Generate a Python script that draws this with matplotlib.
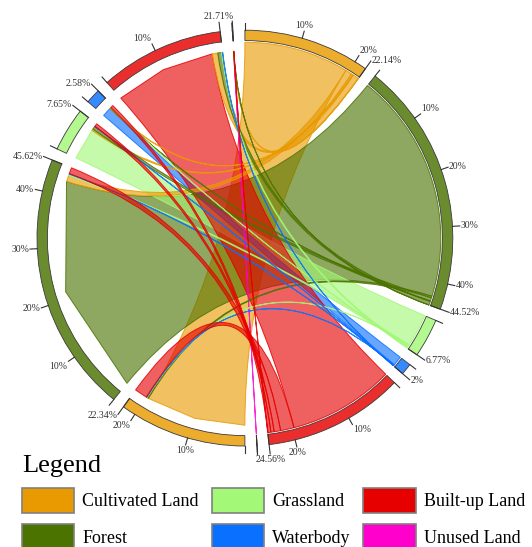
import numpy as np
import matplotlib.pyplot as plt
from matplotlib.path import Path
from matplotlib.patches import PathPatch, Wedge, Patch
from matplotlib.colors import to_rgb

plt.rcParams['font.family'] = ['Liberation Serif', 'DejaVu Serif']

classes = ["Cultivated Land", "Forest", "Grassland", "Waterbody", "Built-up Land", "Unused Land"]
colors = ["#E89A00", "#4B7300", "#A4F878", "#0A70FF", "#E60000", "#FF00CC"]

# land transfer, % of total area: rows = earlier class (left half), cols = later class (right half)
flows = [
    [19.41, 0.30, 0.08, 0.05, 2.50, 0.00],
    [1.20, 42.82, 0.30, 0.10, 1.20, 0.00],
    [0.30, 0.60, 6.10, 0.05, 0.60, 0.00],
    [0.10, 0.10, 0.05, 1.78, 0.55, 0.00],
    [1.10, 0.69, 0.24, 0.02, 19.66, 0.00],
    [0.03, 0.01, 0.00, 0.00, 0.05, 0.01],
]

M = np.array(flows)
n = len(classes)
left_tot = M.sum(axis=1)
right_tot = M.sum(axis=0)

gap = 10 / 3                                  # degrees between segments
k = (360 - 2 * n * gap) / (2 * M.sum())       # degrees per percent
R_OUT, R_IN = 1.0, 0.95                       # outer ring
R_L, R_R = 0.90, 0.942                        # ribbon ends, left / right

# segment angles, clockwise from 12 o'clock: right half first, then left half
seg = {}
theta = 90.0
for side, totals in (("R", right_tot), ("L", left_tot)):
    for c in range(n):
        span = totals[c] * k
        seg[side, c] = (theta, theta - span)
        theta -= span + gap


def order(c):
    return [c] + [o for o in range(n) if o != c]


left_sub, right_sub = {}, {}
for i in range(n):
    a = seg["L", i][0]
    for j in order(i):
        left_sub[i, j] = (a, a - M[i, j] * k)
        a -= M[i, j] * k
for j in range(n):
    b = seg["R", j][0]
    for i in order(j):
        right_sub[i, j] = (b, b - M[i, j] * k)
        b -= M[i, j] * k


def pt(ang, r):
    t = np.radians(ang)
    return (r * np.cos(t), r * np.sin(t))


def ribbon(i, j):
    a0, a1 = left_sub[i, j]
    b0, b1 = right_sub[i, j]
    verts, codes = [], []
    npts = 3 if a0 - a1 > 20 else 2
    for ang in np.linspace(a0, a1, npts):
        verts.append(pt(ang, R_L))
        codes.append(Path.LINETO)
    codes[0] = Path.MOVETO
    verts += [(0, 0), pt(b0, R_R)]
    codes += [Path.CURVE3, Path.CURVE3]
    for ang in np.linspace(b0, b1, int((b0 - b1) / 1.5) + 2)[1:]:
        verts.append(pt(ang, R_R))
        codes.append(Path.LINETO)
    verts += [(0, 0), pt(a0, R_L), pt(a0, R_L)]
    codes += [Path.CURVE3, Path.CURVE3, Path.CLOSEPOLY]
    return Path(verts, codes)


fig = plt.figure(figsize=(5.32, 5.47), dpi=100)
ax = fig.add_axes([-4.6 / 532, 59.4 / 547, 499 / 532, 499 / 547])
ax.set_xlim(-1.2, 1.2)
ax.set_ylim(-1.2, 1.2)
ax.axis('off')

# self-transfers underneath, conversions on top
pairs = [(i, i) for i in range(n)] + [(i, j) for i in range(n) for j in range(n) if i != j]
for i, j in pairs:
    if M[i, j] <= 0:
        continue
    rgb = to_rgb(colors[j])
    ax.add_patch(PathPatch(ribbon(i, j), facecolor=(*rgb, 0.62),
                           edgecolor=(*rgb, 0.85), lw=0.7))


def place(ang, r, vlim=0.35):
    c, s = np.cos(np.radians(ang)), np.sin(np.radians(ang))
    ha = 'left' if c > 0.35 else ('right' if c < -0.35 else 'center')
    va = 'bottom' if s > vlim else ('top' if s < -vlim else 'center')
    return r * c, r * s, ha, va


tick_kw = dict(color='#333333', lw=0.8)
for (side, c), (s, e) in seg.items():
    v = round((right_tot if side == "R" else left_tot)[c], 2)
    ax.add_patch(Wedge((0, 0), R_OUT, e, s, width=R_OUT - R_IN,
                       facecolor=(*to_rgb(colors[c]), 0.82),
                       edgecolor='#3a3a3a', lw=0.6))
    # start tick
    x0, y0 = pt(s, R_OUT)
    x1, y1 = pt(s, R_OUT + 0.035)
    ax.plot([x0, x1], [y0, y1], **tick_kw)
    # end tick with segment share
    x0, y0 = pt(e, R_IN)
    x1, y1 = pt(e, R_OUT + 0.045)
    ax.plot([x0, x1], [y0, y1], **tick_kw)
    if classes[c] == "Unused Land":
        continue
    x, y, ha, va = place(e, R_OUT + 0.05, vlim=0.85)
    ax.text(x, y, f"{v:g}%", ha=ha, va=va, fontsize=7, color='#333333')
    m = 10
    while v - m >= 2:
        ang = s - m * k
        x0, y0 = pt(ang, R_OUT)
        x1, y1 = pt(ang, R_OUT + 0.035)
        ax.plot([x0, x1], [y0, y1], **tick_kw)
        x, y, ha, va = place(ang, R_OUT + 0.04)
        ax.text(x, y, f"{m}%", ha=ha, va=va, fontsize=7, color='#333333')
        m += 10

handles = [Patch(facecolor=col, edgecolor='#808080', lw=1.2) for col in colors]
fig.legend(handles, classes, loc='upper left', bbox_to_anchor=(22 / 532, 1 - 455 / 547),
           ncol=3, frameon=False, fontsize=13, title='Legend', title_fontsize=19,
           alignment='left', handlelength=2.9, handleheight=1.8, handletextpad=0.45,
           columnspacing=0.7, labelspacing=0.6, borderpad=0, borderaxespad=0)

fig.savefig('out.png', dpi=100)
